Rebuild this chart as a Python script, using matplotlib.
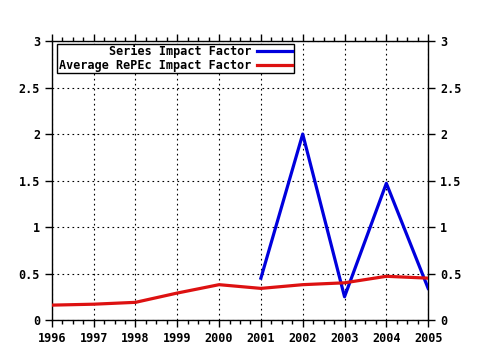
import matplotlib
matplotlib.use("Agg")
import matplotlib.pyplot as plt
from matplotlib.ticker import MultipleLocator

years = [1996, 1997, 1998, 1999, 2000, 2001, 2002, 2003, 2004, 2005]
series_years = [2001, 2002, 2003, 2004, 2005]
series_if = [0.45, 2.0, 0.25, 1.47, 0.34]
repec_if = [0.16, 0.17, 0.19, 0.29, 0.38, 0.34, 0.38, 0.40, 0.47, 0.45]

plt.rcParams['font.family'] = ['DejaVu Sans Mono']
plt.rcParams['font.weight'] = 'bold'
plt.rcParams['font.size'] = 8.5

fig = plt.figure(figsize=(4.8, 3.5), dpi=100)
ax = fig.add_axes([0.108, 0.0857, 0.784, 0.797])

ax.plot(series_years, series_if, color='#0000dd', lw=2.3, label='Series Impact Factor', zorder=3)
ax.plot(years, repec_if, color='#dd1111', lw=2.3, label='Average RePEc Impact Factor', zorder=3)

ax.set_xlim(1996, 2005)
ax.set_ylim(0, 3)
ax.set_xticks(years)
ax.xaxis.set_minor_locator(MultipleLocator(0.25))
ax.set_yticks([0, 0.5, 1, 1.5, 2, 2.5, 3])
ax.set_yticklabels(['0', '0.5', '1', '1.5', '2', '2.5', '3'])
ax.grid(True, color='black', linestyle=(0, (1.5, 3)), lw=0.8)

ax.tick_params(axis='both', which='both', direction='out', color='black',
               top=True, right=True, labelright=True, labeltop=False)
ax.tick_params(which='major', length=5, width=1)
ax.tick_params(which='minor', length=3, width=1)
for s in ax.spines.values():
    s.set_linewidth(1)
    s.set_color('black')

leg = ax.legend(loc='upper left', bbox_to_anchor=(0.015, 0.99), markerfirst=False,
                fancybox=False, framealpha=1, edgecolor='black', handlelength=3.0,
                borderpad=0.1, labelspacing=0.05, handletextpad=0.5, borderaxespad=0,
                prop={'family': 'DejaVu Sans Mono', 'weight': 'bold', 'size': 8.5})
leg.get_frame().set_linewidth(1)
leg._legend_box.align = 'right'

fig.savefig('out.png', dpi=100)
